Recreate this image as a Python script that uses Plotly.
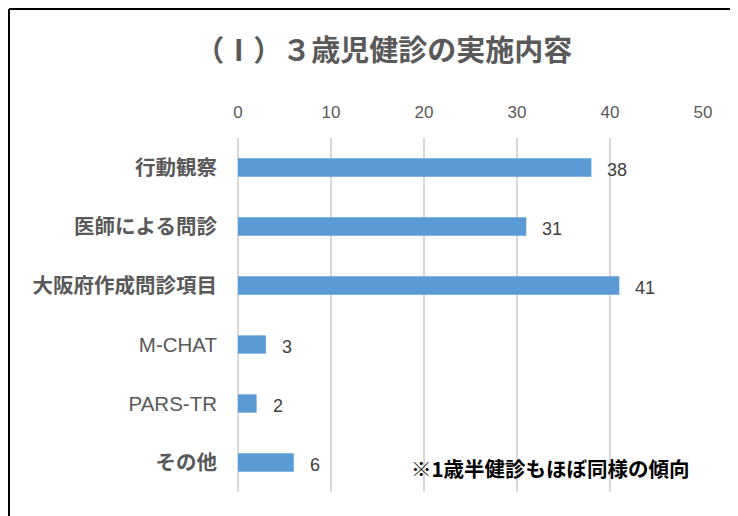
import plotly.graph_objects as go

categories = ["行動観察", "医師による問診", "大阪府作成問診項目", "M-CHAT", "PARS-TR", "その他"]
bold_flags = [True, True, True, False, False, True]
values = [38, 31, 41, 3, 2, 6]
tick_vals = [0, 10, 20, 30, 40, 50]
title_text = "（Ⅰ）３歳児健診の実施内容"
note_text = "※1歳半健診もほぼ同様の傾向"

cjk = "Noto Sans CJK JP"
latin = "Liberation Sans, Arial, Noto Sans CJK JP"

ticktext = [f"<b>{c}</b>" if b else c for c, b in zip(categories, bold_flags)]

fig = go.Figure()
fig.add_trace(go.Bar(
    x=values, y=categories, orientation="h",
    marker=dict(color="#5B9BD5", line=dict(width=0)),
    width=0.31,
    hoverinfo="skip",
))

for c, v in zip(categories, values):
    fig.add_annotation(x=v, y=c, text=str(v), showarrow=False,
                       xanchor="left", xshift=14, yshift=-2,
                       font=dict(family=latin, size=18, color="#404040"))

fig.add_annotation(xref="paper", yref="paper", x=0.976, y=0.068,
                   text=f"<b>{note_text}</b>", showarrow=False,
                   xanchor="right", yanchor="middle",
                   font=dict(family=cjk, size=20.5, color="#000000"))

# chart frame (left and top borders)
fig.add_shape(type="line", xref="paper", yref="paper",
              x0=-0.4925, x1=1.2, y0=1.3644, y1=1.3644,
              line=dict(color="#000000", width=2))
fig.add_shape(type="line", xref="paper", yref="paper",
              x0=-0.4925, x1=-0.4925, y0=-0.2, y1=1.3644,
              line=dict(color="#000000", width=2))

fig.update_layout(
    width=738, height=516,
    margin=dict(l=230, r=43, t=130, b=32),
    paper_bgcolor="white", plot_bgcolor="white",
    showlegend=False,
    title=dict(text=f"<b>{title_text}</b>", x=0.509, xanchor="center", y=0.916, yanchor="middle",
               font=dict(family=cjk, size=29, color="#595959")),
    xaxis=dict(range=[0, 50], side="top", tickvals=tick_vals,
               showgrid=True, gridcolor="#D9D9D9", gridwidth=1.5,
               zeroline=True, zerolinecolor="#D9D9D9", zerolinewidth=1.5,
               showline=False, ticks="", ticklabelstandoff=16,
               tickfont=dict(family=latin, size=17, color="#595959"),
               fixedrange=True),
    yaxis=dict(categoryorder="array", categoryarray=categories,
               autorange="reversed", tickvals=categories, ticktext=ticktext,
               showgrid=False, zeroline=False, showline=False, ticks="",
               ticklabelstandoff=20,
               tickfont=dict(family=latin, size=20.5, color="#595959"),
               fixedrange=True),
)

fig.write_html("out.html")
